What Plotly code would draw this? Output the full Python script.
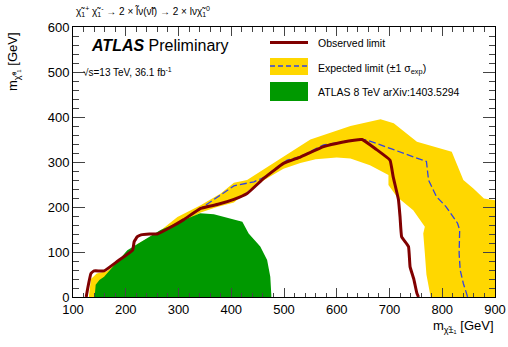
import plotly.graph_objects as go

# ---- data ----
obs_x = [125, 128, 134, 140, 159, 185, 213, 216, 222, 229, 245, 260, 285, 310, 342, 375, 405, 430, 462,
         499, 531, 575, 610, 648, 675, 701, 707, 717, 720, 723, 736, 739, 746, 752, 755]
obs_y = [0, 20, 52, 58, 58, 80, 104, 123, 134, 138, 140, 140, 155, 172, 197, 206, 217, 230, 264,
         297, 311, 334, 344, 350, 328, 304, 267, 216, 178, 134, 112, 67, 40, 8, 0]

exp_x = [305, 348, 380, 405, 443, 462, 506, 531, 575, 644, 657, 770, 774, 789, 807, 829, 833, 832, 834, 840, 846, 848]
exp_y = [167, 201, 228, 247, 256, 266, 304, 312, 338, 351, 349, 301, 260, 223, 201, 164, 149, 97, 60, 30, 8, 0]

band_up_x = [130, 134, 145, 165, 213, 222, 245, 260, 298, 342, 380, 405, 430, 480, 550, 626, 683, 708,
             752, 818, 840, 859, 879, 900]
band_up_y = [0, 40, 52, 58, 106, 118, 132, 142, 178, 204, 230, 254, 260, 297, 350, 380, 395, 386,
             345, 323, 260, 241, 219, 215]
band_lo_x = [900, 778, 770, 767, 764, 767, 745, 714, 698, 698, 663, 626, 600, 560, 531, 499, 468, 436,
             405, 373, 342, 300, 200, 150]
band_lo_y = [0, 0, 50, 97, 141, 156, 193, 223, 249, 271, 293, 308, 310, 306, 298, 285, 264, 240,
             210, 200, 188, 160, 80, 0]

old_x = [141, 143, 150, 159, 203, 266, 310, 341, 367, 393, 421, 433, 455, 468, 474, 476, 476, 141]
old_y = [0, 27, 38, 45, 104, 149, 171, 186, 184, 175, 167, 141, 112, 82, 45, 4, 0, 0]

x_ticks = [100, 200, 300, 400, 500, 600, 700, 800, 900]
y_ticks = [0, 100, 200, 300, 400, 500, 600]

RED = "#800000"
YEL = "#FFD700"
BLUE = "#3344E0"
GREEN = "#009900"
FONT = "Liberation Sans, Arial, sans-serif"

W, H = 508, 347
ML, MR, MT, MB = 73, 13, 27, 50
PW, PH = W - ML - MR, H - MT - MB


def px(x):
    return (x - ML) / PW


def py(y):
    return (H - MB - y) / PH


fig = go.Figure()
fig.add_trace(go.Scatter(x=band_up_x + band_lo_x, y=band_up_y + band_lo_y, fill="toself",
                         fillcolor=YEL, line=dict(width=0), mode="lines", hoverinfo="skip"))
fig.add_trace(go.Scatter(x=exp_x, y=exp_y, mode="lines",
                         line=dict(color=BLUE, width=1.3, dash="7px,3px")))
fig.add_trace(go.Scatter(x=old_x, y=old_y, fill="toself", fillcolor=GREEN,
                         line=dict(width=0), mode="lines"))
fig.add_trace(go.Scatter(x=obs_x, y=obs_y, mode="lines",
                         line=dict(color=RED, width=3, shape="spline", smoothing=0.3)))

axis_common = dict(showline=True, linecolor="black", linewidth=1, mirror="allticks",
                   ticks="inside", showgrid=False, zeroline=False, automargin=False,
                   tickfont=dict(family=FONT, size=13, color="black"))
fig.update_xaxes(range=[100, 900], tickvals=x_ticks, ticklen=9,
                 minor=dict(dtick=20, ticklen=4.5, ticks="inside", showgrid=False),
                 **axis_common)
fig.update_yaxes(range=[0, 600], tickvals=y_ticks, ticklen=12,
                 minor=dict(dtick=20, ticklen=6, ticks="inside", showgrid=False),
                 **axis_common)

shapes = []
# legend symbols
shapes.append(dict(type="line", xref="paper", yref="paper", x0=px(270), x1=px(308), y0=py(42.5), y1=py(42.5),
                   line=dict(color=RED, width=3)))
shapes.append(dict(type="rect", xref="paper", yref="paper", x0=px(270), x1=px(308), y0=py(58), y1=py(75),
                   fillcolor=YEL, line=dict(width=0)))
shapes.append(dict(type="line", xref="paper", yref="paper", x0=px(270), x1=px(308), y0=py(66), y1=py(66),
                   line=dict(color=BLUE, width=1.3, dash="5px,3px")))
shapes.append(dict(type="rect", xref="paper", yref="paper", x0=px(270), x1=px(308), y0=py(82), y1=py(101),
                   fillcolor=GREEN, line=dict(width=0)))

ann = []


def text(x, y, s, size, xanchor="left", **kw):
    ann.append(dict(x=px(x), y=py(y), xref="paper", yref="paper", text=s, showarrow=False,
                    xanchor=xanchor, yanchor="middle", font=dict(family=FONT, size=size, color="black"), **kw))


text(316, 43, "Observed limit", 10.5)
text(316, 69, "Expected limit (±1 σ<sub>exp</sub>)", 10.5)
text(316, 92, "ATLAS 8 TeV arXiv:1403.5294", 10.5)
text(89, 45, "<b><i>ATLAS</i></b> Preliminary", 16)
text(81, 72, "√s=13 TeV, 36.1 fb<sup>-1</sup>", 10)
text(74, 12, "χ̃<sub>1</sub><sup>+</sup> χ̃<sub>1</sub><sup>-</sup> → 2 × l̃ν(ν̃l) → 2 × lνχ̃<sub>1</sub><sup>0</sup>", 10)
text(496, 326, "m<sub>χ̃±₁</sub> [GeV]", 13, xanchor="right")
ann.append(dict(x=px(13), y=py(62), xref="paper", yref="paper", text="m<sub>χ̃⁰₁</sub> [GeV]",
                showarrow=False, textangle=-90, xanchor="center", yanchor="middle",
                font=dict(family=FONT, size=13, color="black")))

fig.update_layout(width=W, height=H, margin=dict(l=ML, r=MR, t=MT, b=MB, pad=0, autoexpand=False),
                  paper_bgcolor="white", plot_bgcolor="white", showlegend=False,
                  shapes=shapes, annotations=ann)

fig.write_html("out.html", config={"displayModeBar": False},
               post_script="document.body.style.margin='0px';document.body.style.overflow='hidden';")
